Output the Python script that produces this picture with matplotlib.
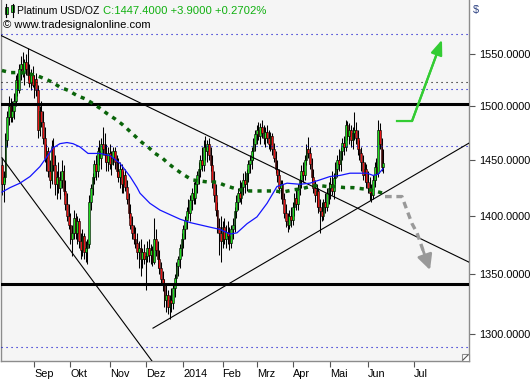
import numpy as np
import matplotlib
matplotlib.use('Agg')
import matplotlib.pyplot as plt
from matplotlib.patches import Rectangle
from matplotlib.lines import Line2D
from matplotlib.ticker import FixedLocator, FixedFormatter, NullLocator

plt.rcParams['font.family'] = ['Liberation Sans', 'DejaVu Sans']

# ---------------- data (daily bars, Aug 2013 - Jun 2014) ----------------
opens = [1445,1428,1435,1468,1490,1500,1490,1495,1505,1525,
 1515,1535,1540,1532,1542,1535,1530,1522,1530,1520,
 1526,1515,1478,1495,1485,1470,1452,1458,1440,1432,
 1462,1445,1428,1435,1425,1432,1440,1422,1410,1400,
 1392,1380,1385,1398,1385,1395,1378,1370,1382,1368,
 1372,1375,1412,1425,1435,1446,1440,1458,1452,1465,
 1460,1455,1448,1456,1446,1452,1458,1448,1440,1435,
 1442,1428,1436,1426,1415,1402,1392,1385,1380,1376,
 1368,1372,1362,1368,1362,1365,1372,1366,1370,1360,
 1380,1370,1362,1355,1345,1340,1328,1332,1322,1328,
 1325,1338,1346,1356,1362,1372,1380,1388,1396,1404,
 1402,1414,1420,1416,1428,1436,1442,1450,1445,1462,
 1458,1465,1455,1445,1430,1418,1405,1390,1385,1378,
 1390,1380,1386,1382,1376,1388,1392,1404,1412,1420,
 1416,1426,1432,1428,1438,1446,1450,1458,1465,1474,
 1478,1472,1480,1475,1470,1476,1470,1465,1472,1460,
 1452,1442,1436,1425,1428,1415,1402,1395,1392,1400,
 1396,1408,1416,1410,1424,1432,1440,1436,1450,1460,
 1456,1446,1435,1425,1418,1422,1408,1404,1400,1412,
 1408,1420,1425,1428,1422,1434,1442,1450,1446,1458,
 1466,1462,1482,1472,1478,1468,1475,1478,1470,1460,
 1456,1448,1436,1442,1430,1425,1420,1418,1432,1444,
 1438,1478,1465,1443.5]
highs = [1452,1440,1475,1495,1510,1508,1505,1512,1530,1532,
 1540,1548,1552,1545,1550,1556,1540,1535,1538,1530,
 1532,1520,1500,1505,1495,1480,1465,1462,1450,1468,
 1470,1455,1440,1448,1440,1450,1445,1432,1420,1410,
 1402,1392,1405,1402,1400,1398,1385,1388,1385,1378,
 1380,1418,1428,1438,1450,1455,1462,1468,1470,1480,
 1475,1465,1462,1465,1458,1462,1462,1455,1452,1448,
 1446,1440,1442,1432,1420,1410,1400,1392,1390,1385,
 1378,1380,1372,1375,1368,1378,1380,1375,1374,1398,
 1388,1378,1370,1360,1352,1345,1340,1336,1332,1338,
 1342,1350,1360,1365,1375,1385,1392,1400,1408,1415,
 1418,1425,1430,1432,1440,1448,1455,1462,1468,1472,
 1468,1470,1462,1455,1440,1428,1412,1398,1400,1395,
 1398,1392,1395,1390,1392,1398,1408,1418,1425,1432,
 1430,1438,1440,1442,1450,1455,1462,1470,1478,1482,
 1485,1484,1487,1482,1480,1482,1478,1476,1475,1466,
 1458,1450,1442,1432,1432,1420,1410,1402,1405,1408,
 1412,1420,1425,1428,1436,1445,1448,1455,1465,1471,
 1462,1452,1442,1432,1428,1425,1415,1412,1415,1420,
 1425,1430,1435,1440,1438,1448,1455,1460,1462,1470,
 1472,1487,1486,1484,1482,1480,1494,1485,1478,1468,
 1462,1455,1448,1446,1440,1435,1428,1436,1448,1452,
 1487,1484,1470,1460]
lows = [1418,1412,1430,1462,1482,1485,1485,1488,1500,1510,
 1512,1525,1528,1520,1530,1525,1518,1515,1518,1508,
 1510,1470,1472,1480,1465,1448,1440,1435,1425,1428,
 1440,1418,1415,1420,1415,1425,1418,1405,1395,1388,
 1375,1365,1380,1380,1375,1372,1362,1365,1362,1360,
 1358,1372,1405,1418,1428,1432,1435,1445,1442,1455,
 1448,1440,1440,1442,1436,1445,1442,1435,1430,1425,
 1420,1420,1422,1410,1398,1388,1380,1375,1372,1362,
 1355,1348,1355,1358,1336,1360,1360,1358,1356,1358,
 1365,1355,1350,1340,1335,1322,1318,1316,1312,1318,
 1320,1330,1340,1348,1355,1365,1372,1380,1388,1398,
 1395,1405,1410,1410,1420,1428,1435,1440,1440,1450,
 1448,1450,1440,1425,1412,1400,1385,1366,1360,1372,
 1375,1372,1375,1370,1372,1380,1386,1398,1405,1412,
 1410,1418,1420,1422,1430,1438,1442,1450,1458,1465,
 1468,1465,1470,1465,1462,1466,1460,1458,1455,1448,
 1438,1430,1420,1415,1410,1398,1390,1386,1388,1390,
 1392,1400,1405,1405,1418,1425,1430,1432,1445,1452,
 1442,1430,1420,1412,1408,1402,1385,1395,1396,1402,
 1404,1410,1415,1418,1415,1428,1435,1440,1440,1450,
 1455,1458,1468,1465,1462,1460,1468,1465,1455,1450,
 1440,1432,1430,1425,1420,1414,1412,1415,1426,1432,
 1435,1460,1440,1438]
closes = [1428,1435,1468,1490,1500,1490,1495,1505,1525,1515,
 1535,1540,1532,1542,1535,1530,1522,1530,1520,1526,
 1515,1478,1495,1485,1470,1452,1458,1440,1432,1462,
 1445,1428,1435,1425,1432,1440,1422,1410,1400,1392,
 1380,1385,1398,1385,1395,1378,1370,1382,1368,1372,
 1375,1412,1425,1435,1446,1440,1458,1452,1465,1460,
 1455,1448,1456,1446,1452,1458,1448,1440,1435,1442,
 1428,1436,1426,1415,1402,1392,1385,1380,1376,1368,
 1372,1362,1368,1362,1365,1372,1366,1370,1360,1380,
 1370,1362,1355,1345,1340,1328,1332,1322,1328,1325,
 1338,1346,1356,1362,1372,1380,1388,1396,1404,1402,
 1414,1420,1416,1428,1436,1442,1450,1445,1462,1458,
 1465,1455,1445,1430,1418,1405,1390,1385,1378,1390,
 1380,1386,1382,1376,1388,1392,1404,1412,1420,1416,
 1426,1432,1428,1438,1446,1450,1458,1465,1474,1478,
 1472,1480,1475,1470,1476,1470,1465,1472,1460,1452,
 1442,1436,1425,1428,1415,1402,1395,1392,1400,1396,
 1408,1416,1410,1424,1432,1440,1436,1450,1460,1456,
 1446,1435,1425,1418,1422,1408,1404,1400,1412,1408,
 1420,1425,1428,1422,1434,1442,1450,1446,1458,1466,
 1462,1482,1472,1478,1468,1475,1478,1470,1460,1456,
 1448,1436,1442,1430,1425,1420,1418,1432,1444,1438,
 1478,1465,1443.5,1447.4]

# 50-day average (blue) read at sample bars
ma50_x = [0,4.7,10.5,16.4,22.2,26.3,29.8,33.9,38,41.5,45.6,50.3,57.3,63.2,69,74.9,79,80.7,
          86.5,92.4,98.2,104.1,110,115.8,121.6,127.5,133.3,137.4,143.3,149.1,155,160.8,
          166.7,174.3,180.1,186,191.8,197.7,203.5,209.4,213.5,217,219.9,222.8]
ma50_y = [1421,1425,1429,1435,1444,1453,1461,1465,1466,1465,1462,1456,1456,1454,1447,1435,1425,1420,
          1411,1405,1401,1397,1394,1392,1390,1388,1384,1385,1393,1399,1411,1426,
          1429,1428,1429,1432,1435,1436,1438,1438,1438,1436,1437,1442]
# 200-day average (green dotted)
ma200_x = [0,4.7,10.5,15.2,20.5,25.1,29.2,33.9,38.6,43.9,48.5,52.6,57.3,61.4,66.1,70.2,73.7,77.8,
           81.9,85.4,89.5,93.6,97.1,101.2,105.8,111.1,115.8,120.5,125.7,130.4,134.5,139.2,145,
           149.7,155,159.6,164.3,170.2,175.4,180.1,184.8,190.1,194.7,200.6,205.3,210.5,215.2,220.5,222.8]
ma200_y = [1534,1532,1532,1531,1529,1526,1523,1518,1515,1510,1507,1503,1498,1493,1488,1483,1478,1472,
           1466,1462,1456,1452,1447,1442,1437,1432,1431,1430,1430,1427,1425,1423,1422,
           1422,1422,1422,1421,1423,1424,1426,1427,1426,1426,1425,1425,1424,1423,1421,1420]

# trend lines (bar, price) endpoints
trend_down = ([-1.2, 273.1], [1568.7, 1359.7])
trend_up = ([88.3, 273.1], [1304.4, 1465.5])
trend_steep = ([0, 87.7], [1452, 1277.7])

hlines_thick = [1502, 1341]
hlines_dot_blue = [1569.6, 1515.9, 1462.5, 1289]
hlines_dot_black = [1522.9]

# scenario arrows
up_arrow_x = [231, 239.8, 257.3]
up_arrow_y = [1486, 1486, 1564]
dn_arrow_x = [224, 233.9, 236.8, 239.8, 242.7, 246.2, 250.3]
dn_arrow_y = [1417, 1417, 1405, 1393, 1385, 1370, 1353]

month_pos = [19, 40, 63, 84, 106, 129, 149, 170, 192, 214, 241]
month_lbl = ['Sep', 'Okt', 'Nov', 'Dez', '2014', 'Feb', 'Mrz', 'Apr', 'Mai', 'Jun', 'Jul']
ytick_vals = [1300, 1350, 1400, 1450, 1500, 1550]

# ---------------- figure ----------------
W, H = 531, 380
fig = plt.figure(figsize=(W / 100, H / 100), dpi=100)
fig.patch.set_facecolor('white')
ax = fig.add_axes([1 / W, 19 / H, 468 / W, 361 / H])
ax.set_facecolor('#f5f5f5')
ax.set_yscale('log')

o = np.array(opens); h = np.array(highs); l = np.array(lows); c = np.array(closes)
idx = np.arange(len(c))
cols = np.where(c >= o, '#1edc1e', '#e81414')

ax.vlines(idx, np.minimum(l, np.minimum(o, c)), np.maximum(h, np.maximum(o, c)),
          color='black', lw=0.75, zorder=2)
ax.bar(idx, np.abs(c - o), bottom=np.minimum(o, c), width=1.0, color=cols,
       edgecolor='black', linewidth=0.4, zorder=3)

for v in hlines_thick:
    ax.axhline(v, color='black', lw=2.2, zorder=4)
for v in hlines_dot_blue:
    ax.axhline(v, color='#0000cc', lw=0.8, ls=(0, (1, 3.5)), zorder=4)
for v in hlines_dot_black:
    ax.axhline(v, color='black', lw=0.8, ls=(0, (1, 3.5)), zorder=4)

for tx, ty in (trend_down, trend_up, trend_steep):
    ax.plot(tx, ty, color='black', lw=0.8, zorder=5)

ax.plot(ma50_x, ma50_y, color='#1414ff', lw=0.9, zorder=5)
ax.plot(ma200_x, ma200_y, color='#0a640a', lw=2.5, ls=(0, (1.2, 1.5)), zorder=5,
        solid_capstyle='butt', dash_capstyle='butt')

# arrows
ax.plot(up_arrow_x[:-1] + [up_arrow_x[-2] + 0.9 * (up_arrow_x[-1] - up_arrow_x[-2])],
        up_arrow_y[:-1] + [np.exp(np.log(up_arrow_y[-2]) + 0.9 * (np.log(up_arrow_y[-1]) - np.log(up_arrow_y[-2])))],
        color='#33cc33', lw=1.6, zorder=6)
ax.annotate('', xy=(up_arrow_x[-1], up_arrow_y[-1]), xytext=(up_arrow_x[-2], up_arrow_y[-2]),
            arrowprops=dict(arrowstyle='-|>,head_length=0.9,head_width=0.35', color='#33cc33',
                            lw=1.6, mutation_scale=10, shrinkA=0, shrinkB=0), zorder=6)
ax.plot(dn_arrow_x[:-1], dn_arrow_y[:-1], color='#999999', lw=2.4, ls=(0, (2, 1.4)), zorder=6)
ax.annotate('', xy=(dn_arrow_x[-1], dn_arrow_y[-1]), xytext=(dn_arrow_x[-2], dn_arrow_y[-2]),
            arrowprops=dict(arrowstyle='-|>,head_length=0.9,head_width=0.45', color='#999999',
                            lw=2.0, mutation_scale=10, shrinkA=0, shrinkB=0), zorder=6)

# axes limits and ticks
ax.set_xlim(-0.58, 273.1)
ax.set_ylim(1277.7, 1603.6)
ax.yaxis.tick_right()
ax.yaxis.set_major_locator(FixedLocator(ytick_vals))
ax.yaxis.set_major_formatter(FixedFormatter(['%.4f' % v for v in ytick_vals]))
ax.yaxis.set_minor_locator(NullLocator())
ax.set_xticks(month_pos)
ax.set_xticklabels(month_lbl)
ax.tick_params(axis='y', length=4, width=0.8, color='#555555', labelsize=7.8, pad=3, labelcolor='black')
ax.tick_params(axis='x', length=4, width=0.8, color='#555555', labelsize=7.8, pad=2, labelcolor='black')
for lb in ax.get_xticklabels():
    lb.set_horizontalalignment('left')
for s in ['left', 'right', 'bottom']:
    ax.spines[s].set_color('#8c8c8c')
    ax.spines[s].set_linewidth(1.0)
ax.spines['top'].set_visible(False)

def px(x, y):
    return x / W, 1 - y / H

# header texts
fig.text(*px(17, 14.5), 'Platinum USD/OZ', fontsize=7.5, color='black', va='baseline', ha='left')
fig.text(*px(103, 14.5), 'C:1447.4000 +3.9000 +0.2702%', fontsize=8.1, color='#10b010',
         va='baseline', ha='left')
fig.text(*px(3, 28.5), '\u00a9 www.tradesignalonline.com', fontsize=8.1, color='black',
         va='baseline', ha='left')
fig.text(*px(476, 10), '$', fontsize=7.8, color='#2a3f80', va='center', ha='center')

# small candle icon
for (x0, b0, b1) in [(4.5, 7, 14), (11, 5, 12)]:
    fig.add_artist(Line2D([(x0 + 1.5) / W] * 2, [1 - 3.5 / H, 1 - 16.5 / H], color='black', lw=0.8))
    fig.add_artist(Rectangle(((x0) / W, 1 - b1 / H), 3 / W, (b1 - b0) / H, facecolor='#1edc1e',
                             edgecolor='black', lw=0.5))

# resize grip
fig.add_artist(Rectangle((462 / W, 1 - 361 / H), 7 / W, 7 / H, facecolor='white', edgecolor='#8c8c8c', lw=0.8))
fig.add_artist(Line2D([463 / W, 468 / W], [1 - 360 / H, 1 - 355 / H], color='#555555', lw=0.8))

fig.savefig('out.png', dpi=100, facecolor='white')
